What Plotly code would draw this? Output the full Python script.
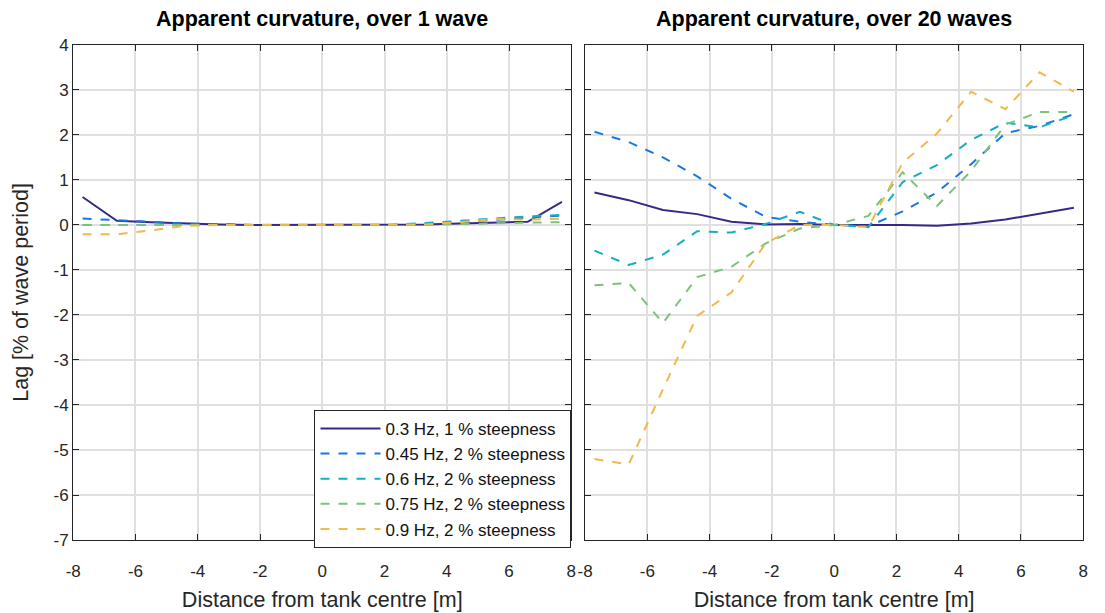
import plotly.graph_objects as go

x_pos = [-7.7, -6.6, -5.5, -4.4, -3.3, -2.2, -1.1, 0.0, 1.1, 2.2, 3.3, 4.4, 5.5, 6.6, 7.7]

labels = ["0.3 Hz, 1 % steepness", "0.45 Hz, 2 % steepness", "0.6 Hz, 2 % steepness",
          "0.75 Hz, 2 % steepness", "0.9 Hz, 2 % steepness"]
colors = ["#352a87", "#1a78e0", "#12aec8", "#7cc27c", "#f0b94a"]
dashes = ["solid", "dash", "dash", "dash", "dash"]

# Left panel: over 1 wave
one_03 = [0.62, 0.09, 0.06, 0.03, 0.01, 0.0, 0.0, 0.0, 0.0, 0.0, 0.01, 0.03, 0.05, 0.07, 0.51]
one_045 = [0.14, 0.11, 0.07, 0.03, 0.01, 0.0, 0.0, 0.0, 0.0, 0.0, 0.02, 0.06, 0.11, 0.16, 0.21]
one_06 = [0.0, 0.0, 0.0, 0.0, 0.0, 0.0, 0.0, 0.0, 0.0, 0.0, 0.04, 0.09, 0.14, 0.19, 0.22]
one_075 = [0.0, 0.0, 0.0, 0.0, 0.0, 0.0, 0.0, 0.0, 0.0, 0.0, 0.0, 0.02, 0.04, 0.05, 0.06]
one_09 = [-0.21, -0.21, -0.12, -0.02, 0.0, 0.0, 0.0, 0.0, 0.0, 0.0, 0.01, 0.06, 0.13, 0.12, 0.14]

# Right panel: over 20 waves
twenty_03 = [0.72, 0.55, 0.33, 0.24, 0.07, 0.01, 0.02, 0.0, 0.0, 0.0, -0.02, 0.03, 0.12, 0.25, 0.38]
twenty_045 = [2.07, 1.84, 1.5, 1.08, 0.58, 0.18, 0.07, 0.0, -0.03, 0.3, 0.72, 1.35, 2.04, 2.2, 2.46]
twenty_06 = [-0.57, -0.89, -0.66, -0.14, -0.17, 0.02, 0.29, 0.0, -0.05, 0.95, 1.33, 1.89, 2.27, 2.17, 2.44]
twenty_075 = [-1.34, -1.29, -2.18, -1.16, -0.93, -0.41, -0.08, 0.0, 0.2, 1.17, 0.42, 1.2, 2.23, 2.51, 2.51]
twenty_09 = [-5.2, -5.32, -3.65, -2.02, -1.5, -0.41, 0.0, 0.0, -0.05, 1.38, 2.03, 2.96, 2.57, 3.39, 2.96]

left_series = [one_03, one_045, one_06, one_075, one_09]
right_series = [twenty_03, twenty_045, twenty_06, twenty_075, twenty_09]

x_ticks = [-8, -6, -4, -2, 0, 2, 4, 6, 8]
y_ticks = [4, 3, 2, 1, 0, -1, -2, -3, -4, -5, -6, -7]

fig = go.Figure()
for i in range(5):
    fig.add_trace(go.Scatter(x=x_pos, y=left_series[i], mode="lines", name=labels[i],
                             line=dict(color=colors[i], width=2, dash=dashes[i]),
                             xaxis="x", yaxis="y", showlegend=True))
for i in range(5):
    fig.add_trace(go.Scatter(x=x_pos, y=right_series[i], mode="lines", name=labels[i],
                             line=dict(color=colors[i], width=2, dash=dashes[i]),
                             xaxis="x2", yaxis="y2", showlegend=False))

W, H = 1105, 613
ytop, ybot = 37, 548
ydom = [(H - ybot) / H, (H - ytop) / H]
font = "Liberation Sans, Arial, sans-serif"

axis_common = dict(showline=True, linecolor="#262626", linewidth=1.2, mirror="all",
                   ticks="inside", ticklen=6, tickcolor="#262626",
                   showgrid=True, gridcolor="#e0e0e0", gridwidth=1.5,
                   zeroline=False, tickfont=dict(family=font, size=17, color="#262626"))

xtitle = dict(text="Distance from tank centre [m]", font=dict(size=21.5, family=font, color="#262626"), standoff=12)

fig.update_layout(
    width=W, height=H,
    margin=dict(l=0, r=0, t=0, b=0),
    paper_bgcolor="white", plot_bgcolor="white",
    font=dict(family=font, color="#262626"),
    xaxis=dict(domain=[66 / W, 570 / W], range=[-8, 8], tickvals=x_ticks,
               ticktext=[str(v) for v in x_ticks], anchor="y", title=xtitle,
               ticklabelstandoff=15, **axis_common),
    yaxis=dict(domain=ydom, range=[-7, 4], tickvals=y_ticks,
               ticktext=[str(v) for v in y_ticks], anchor="x",
               title=dict(text="Lag [% of wave period]", font=dict(size=21.5, family=font, color="#262626"), standoff=19),
               **axis_common),
    xaxis2=dict(domain=[584 / W, 1088 / W], range=[-8, 8], tickvals=x_ticks,
                ticktext=[str(v) for v in x_ticks], anchor="y2", title=xtitle,
                ticklabelstandoff=15, **axis_common),
    yaxis2=dict(domain=ydom, range=[-7, 4], tickvals=y_ticks, showticklabels=False,
                anchor="x2", **axis_common),
    legend=dict(x=570 / W, y=(H - 556) / H, xanchor="right", yanchor="bottom",
                bgcolor="white", bordercolor="#262626", borderwidth=1.2,
                font=dict(family=font, size=17, color="#111111"),
                tracegroupgap=0, itemwidth=60),
    annotations=[
        dict(text="<b>Apparent curvature, over 1 wave</b>", x=(66 + 570) / 2 / W, y=1 - 10 / H,
             xref="paper", yref="paper", showarrow=False, xanchor="center", yanchor="middle",
             font=dict(family=font, size=21.5, color="black")),
        dict(text="<b>Apparent curvature, over 20 waves</b>", x=(584 + 1088) / 2 / W, y=1 - 10 / H,
             xref="paper", yref="paper", showarrow=False, xanchor="center", yanchor="middle",
             font=dict(family=font, size=21.5, color="black")),
    ],
)

fig.write_html("out.html")
